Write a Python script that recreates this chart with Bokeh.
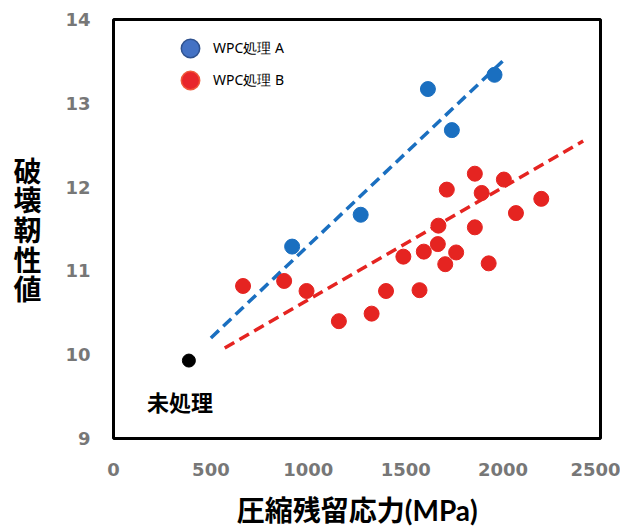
from bokeh.plotting import figure
from bokeh.models import Label, Legend, LegendItem, FixedTicker
from bokeh.embed import file_html
from bokeh.resources import INLINE

# ---- data ----
a_x = [917, 1269, 1614, 1737, 1956]
a_y = [11.29, 11.67, 13.17, 12.68, 13.34]

b_x = [665, 876, 991, 1157, 1325, 1399, 1488, 1571, 1593, 1665, 1668,
       1703, 1711, 1759, 1855, 1855, 1890, 1926, 2004, 2066, 2196]
b_y = [10.82, 10.88, 10.76, 10.40, 10.49, 10.76, 11.17, 10.77, 11.23, 11.32, 11.54,
       11.08, 11.97, 11.22, 12.16, 11.52, 11.93, 11.09, 12.09, 11.69, 11.86]

untreated_x = [387]
untreated_y = [9.93]

trend_a_x = [500, 2010]
trend_a_y = [10.20, 13.53]
trend_b_x = [571, 2411]
trend_b_y = [10.08, 12.55]

x_ticks = [0, 500, 1000, 1500, 2000, 2500]
y_ticks = [9, 10, 11, 12, 13, 14]

y_title = "破壊靭性値"
x_title = "圧縮残留応力(MPa)"
label_a = "WPC処理 A"
label_b = "WPC処理 B"
label_untreated = "未処理"

BLUE = "#1a6fc0"
RED = "#e52421"
JP = "Noto Sans CJK JP"
NAN = float("nan")

p = figure(width=620, height=529, x_range=(0, 2500), y_range=(9, 14),
           output_backend="svg", toolbar_location=None,
           min_border_left=113, min_border_right=20, min_border_top=19, min_border_bottom=90)
p.grid.visible = False
p.outline_line_color = "black"
p.outline_line_width = 3
p.background_fill_color = "white"
p.border_fill_color = "white"

for ax in (p.xaxis[0], p.yaxis[0]):
    ax.axis_line_color = None
    ax.major_tick_line_color = None
    ax.minor_tick_line_color = None
    ax.major_label_text_font = "DejaVu Sans"
    ax.major_label_text_font_style = "bold"
    ax.major_label_text_font_size = "18px"
    ax.major_label_text_color = "#777777"
    ax.axis_label_text_font_style = "bold"
    ax.axis_label_text_color = "black"
p.xaxis.ticker = FixedTicker(ticks=x_ticks)
p.yaxis.ticker = FixedTicker(ticks=y_ticks)
p.xaxis.major_label_standoff = 18
p.yaxis.major_label_standoff = 17

# axis titles
p.xaxis.axis_label = x_title
p.xaxis.axis_label_text_font = "Lato, 'Noto Sans CJK JP'"
p.xaxis.axis_label_text_font_size = "28px"
p.xaxis.axis_label_standoff = 14
p.yaxis.axis_label = "\n".join(y_title)
p.yaxis.axis_label_text_font = JP
p.yaxis.axis_label_orientation = "horizontal"
p.yaxis.axis_label_text_font_size = "28px"
p.yaxis.axis_label_text_line_height = 0.74
p.yaxis.axis_label_standoff = 21

# trend lines
p.line(trend_a_x, trend_a_y, line_color=BLUE, line_width=3.5, line_dash="11 6")
p.line(trend_b_x, trend_b_y, line_color=RED, line_width=3.5, line_dash="11 6")

# points
p.scatter(a_x, a_y, size=15, fill_color=BLUE, line_color=BLUE)
p.scatter(b_x, b_y, size=15, fill_color=RED, line_color=RED)
p.scatter(untreated_x, untreated_y, size=13, fill_color="black", line_color="black")

# legend (swatch renderers, no visible data)
la = p.scatter(x=[NAN], y=[NAN], size=20, fill_color="#4472c4", line_color="#2f528f", line_width=1.5)
lb = p.scatter(x=[NAN], y=[NAN], size=20, fill_color="#e8262a", line_color="#f05a3a", line_width=1.5)
common = dict(border_line_color=None, background_fill_alpha=0,
              glyph_width=46, glyph_height=46, spacing=0, label_standoff=0,
              label_text_font="Noto Sans", label_text_font_size="14px", label_text_color="black",
              padding=0, margin=0)
leg_a = Legend(items=[LegendItem(label=label_a, renderers=[la])], location=(54, 367), **common)
leg_b = Legend(items=[LegendItem(label=label_b, renderers=[lb])], location=(54, 335), **common)
p.add_layout(leg_a, "center")
p.add_layout(leg_b, "center")

# untreated label
p.add_layout(Label(x=untreated_x[0], y=untreated_y[0], text=label_untreated, x_offset=-9, y_offset=-40,
                   text_align="center", text_baseline="middle", text_font=JP,
                   text_font_style="bold", text_font_size="22px", text_color="black"))

open("out.html", "w").write(file_html(p, INLINE))
